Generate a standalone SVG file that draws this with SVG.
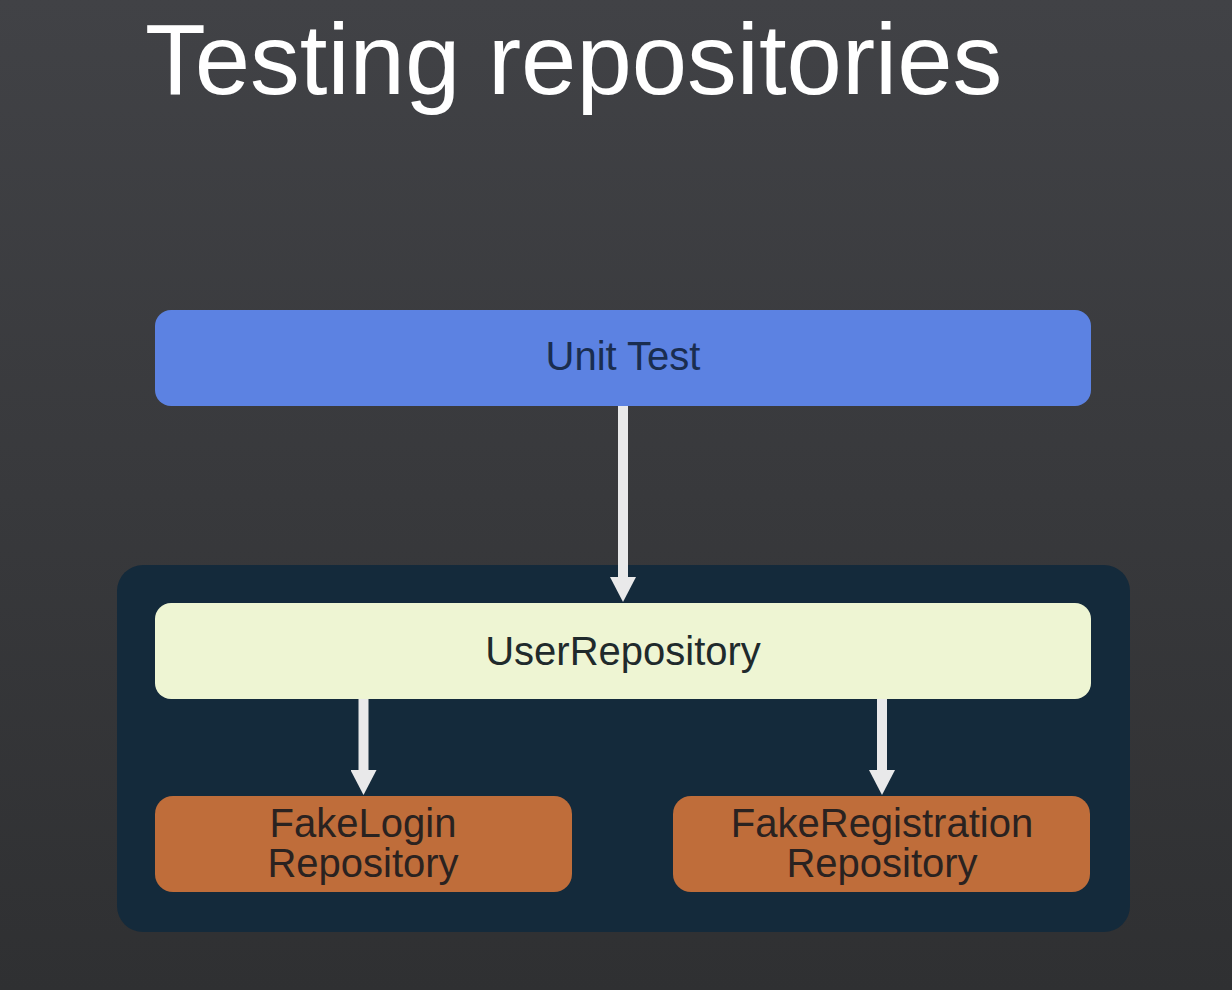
<svg xmlns="http://www.w3.org/2000/svg" width="1232" height="990" viewBox="0 0 1232 990">
  <defs>
    <linearGradient id="bg" x1="0" y1="0" x2="0" y2="1">
      <stop offset="0" stop-color="#414246"/>
      <stop offset="1" stop-color="#2f3032"/>
    </linearGradient>
    <marker id="head" viewBox="0 0 25 26" refX="1" refY="13" markerWidth="25" markerHeight="26" markerUnits="userSpaceOnUse" orient="auto">
      <path d="M0,0 L25,13 L0,26 Z" fill="#e9e9ea"/>
    </marker>
    <style>
      .title { font-family: "Liberation Sans", Arial, sans-serif; font-size: 99.5px; fill: #ffffff; }
      .lbl { font-family: "Liberation Sans", Arial, sans-serif; font-size: 40px; text-anchor: middle; }
      .edge { stroke: #e9e9ea; stroke-width: 10; fill: none; marker-end: url(#head); }
    </style>
  </defs>
  <rect x="0" y="0" width="1232" height="990" fill="url(#bg)"/>
  <text class="title" x="145" y="94">Testing repositories</text>

  <g id="repo-container">
    <rect x="117" y="565" width="1013" height="367" rx="26" fill="#142a3b"/>
  </g>

  <g id="unit-test">
    <rect x="155" y="310" width="936" height="96" rx="16" fill="#5c82e2"/>
    <text class="lbl" x="623" y="370" fill="#1a2d4f">Unit Test</text>
  </g>

  <g id="user-repository">
    <rect x="155" y="603" width="936" height="96" rx="16" fill="#eef5d3"/>
    <text class="lbl" x="623" y="665" fill="#1f2a2c">UserRepository</text>
  </g>

  <g id="fake-login">
    <rect x="155" y="796" width="417" height="96" rx="18" fill="#bf6d3a"/>
    <text class="lbl" x="363" y="837" fill="#2a2220">FakeLogin</text>
    <text class="lbl" x="363" y="877" fill="#2a2220">Repository</text>
  </g>

  <g id="fake-registration">
    <rect x="673" y="796" width="417" height="96" rx="18" fill="#bf6d3a"/>
    <text class="lbl" x="882" y="837" fill="#2a2220">FakeRegistration</text>
    <text class="lbl" x="882" y="877" fill="#2a2220">Repository</text>
  </g>

  <g id="connectors">
    <line class="edge" x1="623" y1="406" x2="623" y2="578"/>
    <line class="edge" x1="363.5" y1="699" x2="363.5" y2="771"/>
    <line class="edge" x1="882" y1="699" x2="882" y2="771"/>
  </g>
</svg>
